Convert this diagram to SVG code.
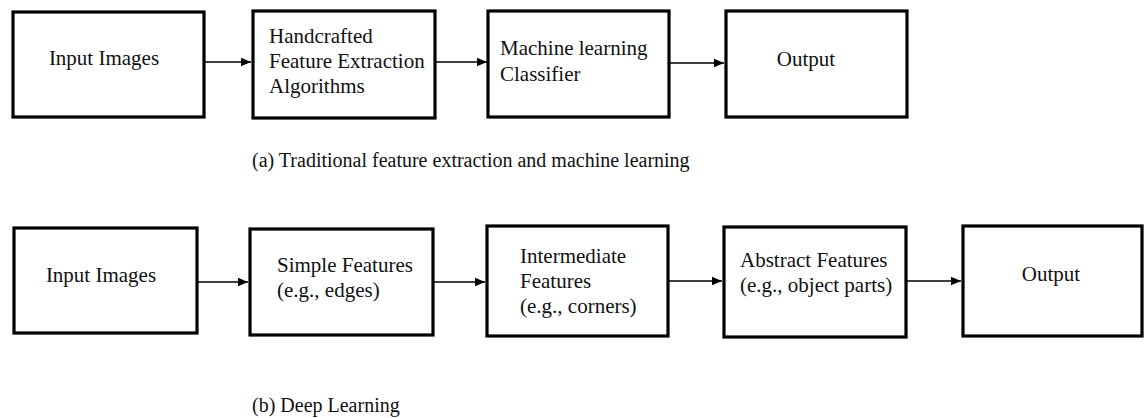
<svg xmlns="http://www.w3.org/2000/svg" width="1144" height="418" viewBox="0 0 1144 418">
  <style>
    .box { fill: #ffffff; stroke: #000000; stroke-width: 3.2; }
    .lbl { font-family: "Liberation Serif", "Times New Roman", serif; font-size: 21px; fill: #111111; }
    .mid { text-anchor: middle; }
    .cap { font-family: "Liberation Serif", "Times New Roman", serif; font-size: 20px; fill: #111111; }
    .conn { stroke: #000000; stroke-width: 1.4; fill: none; marker-end: url(#arrow); }
  </style>
  <defs>
    <marker id="arrow" markerUnits="userSpaceOnUse" markerWidth="11" markerHeight="10" refX="10" refY="5" orient="auto">
      <path d="M0,0.8 L10,5 L0,9.2 Z" fill="#000000"/>
    </marker>
  </defs>
  <rect width="1144" height="418" fill="#ffffff"/>

  <!-- (a) traditional pipeline -->
  <g id="a-input">
    <rect class="box" x="13" y="12" width="191" height="105"/>
    <text class="lbl mid" x="104" y="65">Input Images</text>
  </g>
  <g id="a-handcrafted">
    <rect class="box" x="253" y="11" width="182" height="107"/>
    <text class="lbl" x="269" y="43">Handcrafted</text>
    <text class="lbl" x="269" y="68">Feature Extraction</text>
    <text class="lbl" x="269" y="93">Algorithms</text>
  </g>
  <g id="a-classifier">
    <rect class="box" x="488" y="11" width="181" height="106"/>
    <text class="lbl" x="500" y="55">Machine learning</text>
    <text class="lbl" x="500" y="81">Classifier</text>
  </g>
  <g id="a-output">
    <rect class="box" x="726" y="11" width="181" height="106"/>
    <text class="lbl mid" x="806" y="66">Output</text>
  </g>
  <text class="cap" x="252" y="167">(a) Traditional feature extraction and machine learning</text>

  <!-- (b) deep learning pipeline -->
  <g id="b-input">
    <rect class="box" x="14" y="228" width="183" height="105"/>
    <text class="lbl mid" x="101" y="282">Input Images</text>
  </g>
  <g id="b-simple">
    <rect class="box" x="250" y="229" width="183" height="106"/>
    <text class="lbl" x="277" y="272">Simple Features</text>
    <text class="lbl" x="277" y="297">(e.g., edges)</text>
  </g>
  <g id="b-intermediate">
    <rect class="box" x="487" y="226" width="181" height="110"/>
    <text class="lbl" x="520" y="263">Intermediate</text>
    <text class="lbl" x="520" y="288">Features</text>
    <text class="lbl" x="520" y="313">(e.g., corners)</text>
  </g>
  <g id="b-abstract">
    <rect class="box" x="724" y="227" width="182" height="110"/>
    <text class="lbl" x="740" y="267">Abstract Features</text>
    <text class="lbl" x="740" y="292">(e.g., object parts)</text>
  </g>
  <g id="b-output">
    <rect class="box" x="963" y="226" width="179" height="110"/>
    <text class="lbl mid" x="1051" y="281">Output</text>
  </g>
  <text class="cap" x="252" y="412">(b) Deep Learning</text>

  <g id="connectors">
    <line class="conn" x1="205" y1="62" x2="251" y2="62"/>
    <line class="conn" x1="436" y1="62" x2="487" y2="62"/>
    <line class="conn" x1="670" y1="63" x2="724" y2="63"/>
    <line class="conn" x1="198" y1="282" x2="248" y2="282"/>
    <line class="conn" x1="434" y1="282" x2="485" y2="282"/>
    <line class="conn" x1="669" y1="281" x2="722" y2="281"/>
    <line class="conn" x1="907" y1="281" x2="961" y2="281"/>
  </g>
</svg>
